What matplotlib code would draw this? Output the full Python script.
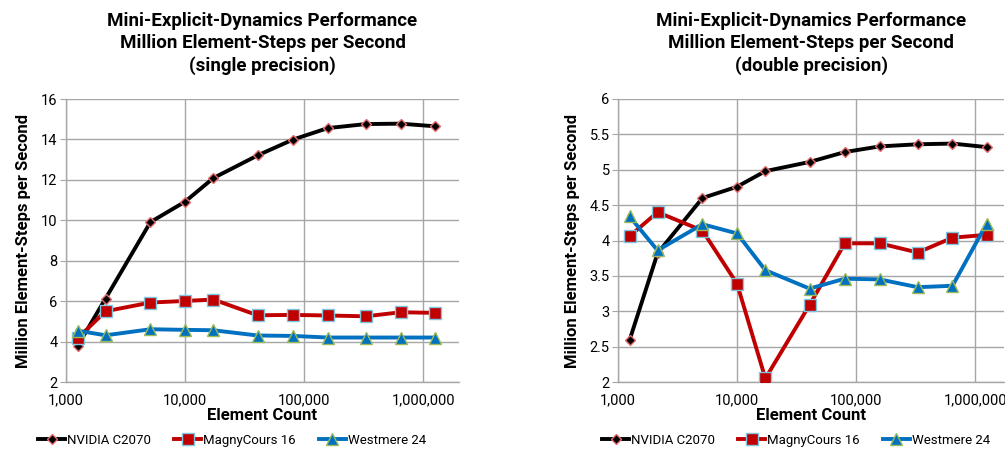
import matplotlib
matplotlib.use("Agg")
import matplotlib.pyplot as plt
from matplotlib.ticker import FixedLocator, FuncFormatter

plt.rcParams['font.family'] = ['Roboto', 'DejaVu Sans']

element_counts = [1250, 2150, 5120, 10000, 17300, 40700, 80400, 158000, 330000, 646000, 1253000]

series_names = ["NVIDIA C2070", "MagnyCours 16", "Westmere 24"]

single_nvidia = [3.78, 6.13, 9.91, 10.92, 12.09, 13.21, 13.99, 14.56, 14.76, 14.78, 14.65]
single_magny = [4.16, 5.50, 5.93, 6.01, 6.08, 5.30, 5.32, 5.29, 5.25, 5.45, 5.42]
single_westmere = [4.54, 4.31, 4.61, 4.58, 4.56, 4.30, 4.28, 4.20, 4.20, 4.20, 4.20]

double_nvidia = [2.59, 3.82, 4.60, 4.76, 4.98, 5.11, 5.25, 5.33, 5.36, 5.37, 5.32]
double_magny = [4.06, 4.40, 4.14, 3.39, 2.05, 3.09, 3.96, 3.96, 3.83, 4.04, 4.08]
double_westmere = [4.34, 3.86, 4.23, 4.10, 3.58, 3.32, 3.46, 3.45, 3.34, 3.36, 4.24]

titles = ["Mini-Explicit-Dynamics Performance\nMillion Element-Steps per Second\n(single precision)",
          "Mini-Explicit-Dynamics Performance\nMillion Element-Steps per Second\n(double precision)"]
x_ticks = [1000, 10000, 100000, 1000000]
y_ticks_single = [2, 4, 6, 8, 10, 12, 14, 16]
y_ticks_double = [2, 2.5, 3, 3.5, 4, 4.5, 5, 5.5, 6]

styles = [
    dict(color="black", marker="D", markersize=5.5, markerfacecolor="black", markeredgecolor="#E46C6C", markeredgewidth=1.0),
    dict(color="#C00000", marker="s", markersize=8.5, markerfacecolor="#C00000", markeredgecolor="#7FC6E0", markeredgewidth=1.0),
    dict(color="#0070C0", marker="^", markersize=9, markerfacecolor="#0070C0", markeredgecolor="#9BBB59", markeredgewidth=1.0),
]

W, H = 1005, 455
fig = plt.figure(figsize=(W / 100, H / 100), dpi=100)

def px_axes(x0, x1, ytop, ybot):
    return fig.add_axes([x0 / W, 1 - ybot / H, (x1 - x0) / W, (ybot - ytop) / H])

ax1 = px_axes(66, 459, 99, 382)
ax2 = px_axes(618, 1004, 99, 382)

data = [
    (ax1, [single_nvidia, single_magny, single_westmere], y_ticks_single, 2.0e6, (232 - 66) / (459 - 66)),
    (ax2, [double_nvidia, double_magny, double_westmere], y_ticks_double, 1.75e6, (796 - 618) / (1004 - 618)),
]

for i, (ax, sers, yt, xmax, legx) in enumerate(data):
    for name, vals, st in zip(series_names, sers, styles):
        ax.plot(element_counts, vals, linewidth=2.8, label=name, zorder=3, **st)
    ax.set_xscale("log")
    ax.set_xlim(1000, xmax)
    ax.set_ylim(yt[0], yt[-1])
    ax.xaxis.set_major_locator(FixedLocator(x_ticks))
    ax.xaxis.set_minor_locator(FixedLocator([]))
    ax.xaxis.set_major_formatter(FuncFormatter(lambda v, p: f"{int(round(v)):,}"))
    ax.set_yticks(yt)
    ax.set_yticklabels([f"{v:g}" for v in yt])
    ax.grid(True, which="major", color="#A6A6A6", linewidth=1.0)
    ax.set_axisbelow(True)
    for s in ["top", "right"]:
        ax.spines[s].set_visible(False)
    for s in ["left", "bottom"]:
        ax.spines[s].set_color("#A6A6A6")
        ax.spines[s].set_linewidth(1.0)
    ax.tick_params(axis="y", length=4, color="#A6A6A6", labelsize=10.5, pad=2)
    ax.tick_params(axis="x", length=0, labelsize=10.5, pad=8)
    ax.set_xlabel("Element Count", fontsize=12, fontweight="bold", labelpad=1)
    ax.set_ylabel("Million Element-Steps per Second", fontsize=12, fontweight="bold", labelpad=7)
    ax.set_title(titles[i], fontsize=13.5, fontweight="bold", linespacing=1.3, pad=20)
    ax.legend(loc="center", bbox_to_anchor=(legx, -0.205), ncol=3, frameon=False,
              fontsize=9.5, handlelength=2.0, columnspacing=1.8, handletextpad=0.15,
              borderaxespad=0)

fig.savefig("out.png", dpi=100)
